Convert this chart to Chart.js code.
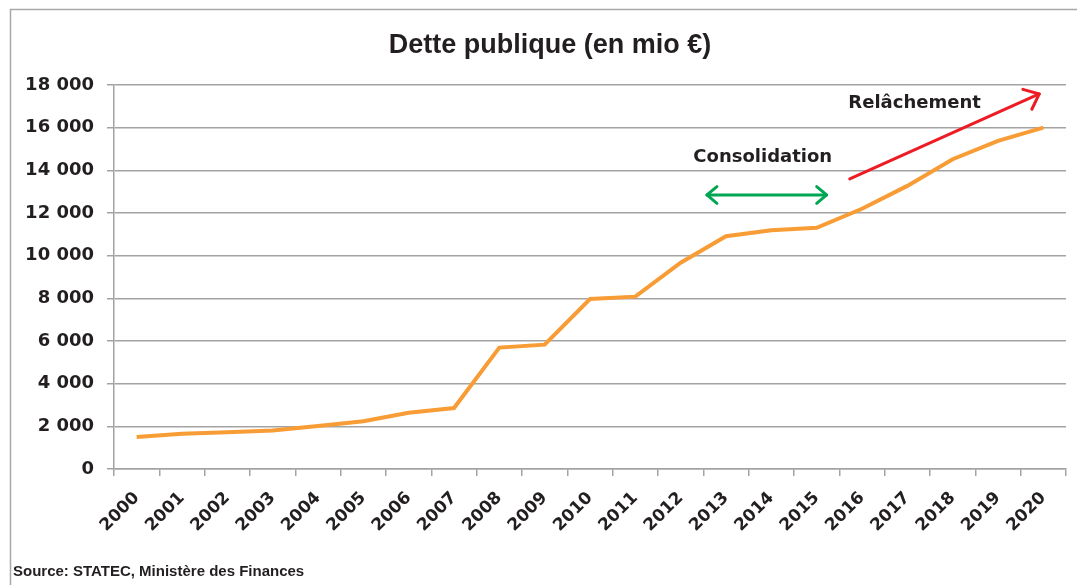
<!DOCTYPE html>
<html>
<head>
<meta charset="utf-8">
<script src="https://cdn.jsdelivr.net/npm/chart.js@4"></script>
<style>
    html, body { margin: 0; padding: 0; background: #ffffff; }
    #wrap { position: relative; width: 1077px; height: 585px; }
</style>
</head>
<body>
<div id="wrap"><canvas id="detteChart" width="1077" height="585"></canvas></div>
<script>
const years = ["2000", "2001", "2002", "2003", "2004", "2005", "2006", "2007", "2008", "2009", "2010",
    "2011", "2012", "2013", "2014", "2015", "2016", "2017", "2018", "2019", "2020"];
const dette = [1500, 1655, 1720, 1810, 2015, 2235, 2640, 2860, 5690, 5830, 7970,
    8080, 9670, 10910, 11190, 11310, 12200, 13270, 14520, 15380, 16000];
const yTicks = [0, 2000, 4000, 6000, 8000, 10000, 12000, 14000, 16000, 18000];

const titleText = "Dette publique (en mio €)";
const sourceText = "Source: STATEC, Ministère des Finances";

// annotations, placed in data units (category index, value)
const consolidation = { label: "Consolidation", labelAt: [13.81, 14625], from: [12.58, 12845], to: [15.22, 12845] };
const relachement = { label: "Relâchement", labelAt: [17.16, 17160], from: [15.73, 13595], to: [19.91, 17580] };

const inkColor = "#231f20";
const gridColor = "#a3a3a3";

function fmt(v) {
    return String(v).replace(/\B(?=(\d{3})+(?!\d))/g, " ");
}

function arrowHead(ctx, x1, y1, x2, y2, size) {
    const a = Math.atan2(y2 - y1, x2 - x1);
    ctx.beginPath();
    ctx.moveTo(x2 - size * Math.cos(a - Math.PI / 4.5), y2 - size * Math.sin(a - Math.PI / 4.5));
    ctx.lineTo(x2, y2);
    ctx.lineTo(x2 - size * Math.cos(a + Math.PI / 4.5), y2 - size * Math.sin(a + Math.PI / 4.5));
    ctx.stroke();
}

const extras = {
    id: "extras",
    beforeDraw(chart) {
        const ctx = chart.ctx;
        ctx.save();
        ctx.fillStyle = "#ffffff";
        ctx.fillRect(0, 0, chart.width, chart.height);
        // frame
        ctx.strokeStyle = "#a8a8a8";
        ctx.lineWidth = 1.5;
        ctx.beginPath();
        ctx.moveTo(10.5, chart.height);
        ctx.lineTo(10.5, 9.5);
        ctx.lineTo(chart.width, 9.5);
        ctx.stroke();
        // title
        ctx.fillStyle = inkColor;
        ctx.font = "bold 27px 'Liberation Sans Narrow', 'Liberation Sans', sans-serif";
        ctx.textAlign = "center";
        ctx.textBaseline = "middle";
        ctx.fillText(titleText, 550, 46);
        // source
        ctx.font = "bold 15px 'Liberation Sans Narrow', 'Liberation Sans', sans-serif";
        ctx.textAlign = "left";
        ctx.textBaseline = "alphabetic";
        ctx.fillText(sourceText, 13, 576);
        ctx.restore();
    },
    afterDatasetsDraw(chart) {
        const ctx = chart.ctx;
        const xs = chart.scales.x, ys = chart.scales.y;
        const px = p => [xs.getPixelForValue(p[0]), ys.getPixelForValue(p[1])];
        ctx.save();
        ctx.lineCap = "round";
        ctx.lineJoin = "round";

        // green double arrow
        let a = px(consolidation.from), b = px(consolidation.to);
        ctx.strokeStyle = "#00a651";
        ctx.lineWidth = 3;
        ctx.beginPath();
        ctx.moveTo(a[0], a[1]);
        ctx.lineTo(b[0], b[1]);
        ctx.stroke();
        arrowHead(ctx, a[0], a[1], b[0], b[1], 13);
        arrowHead(ctx, b[0], b[1], a[0], a[1], 13);

        // red arrow
        a = px(relachement.from); b = px(relachement.to);
        ctx.strokeStyle = "#ed1c24";
        ctx.beginPath();
        ctx.moveTo(a[0], a[1]);
        ctx.lineTo(b[0], b[1]);
        ctx.stroke();
        arrowHead(ctx, a[0], a[1], b[0], b[1], 17);

        // labels
        ctx.fillStyle = inkColor;
        ctx.font = "bold 18px 'DejaVu Sans', sans-serif";
        ctx.textAlign = "center";
        ctx.textBaseline = "middle";
        let t = px(consolidation.labelAt);
        ctx.fillText(consolidation.label, t[0], t[1]);
        t = px(relachement.labelAt);
        ctx.fillText(relachement.label, t[0], t[1]);
        ctx.restore();
    }
};

const ctx = document.getElementById("detteChart").getContext("2d");

new Chart(ctx, {
    type: "line",
    data: {
        labels: years,
        datasets: [{
            data: dette,
            borderColor: "#f89c35",
            borderWidth: 4,
            pointRadius: 0,
            tension: 0,
            fill: false
        }]
    },
    options: {
        responsive: false,
        animation: false,
        devicePixelRatio: 1,
        layout: {
            padding: { top: 85, right: 11, left: 0, bottom: 0 }
        },
        plugins: {
            legend: { display: false },
            tooltip: { enabled: false },
            title: { display: false }
        },
        scales: {
            x: {
                offset: true,
                grid: {
                    display: true,
                    offset: true,
                    drawOnChartArea: false,
                    drawTicks: true,
                    tickLength: 7,
                    color: gridColor,
                    lineWidth: 1.5
                },
                border: { display: true, color: gridColor, width: 1.5 },
                ticks: {
                    autoSkip: false,
                    maxRotation: 45,
                    minRotation: 45,
                    padding: 12,
                    color: inkColor,
                    font: { family: "'DejaVu Sans', sans-serif", size: 17, weight: "bold" }
                },
                afterFit: scale => { scale.height = 116; }
            },
            y: {
                min: 0,
                max: 18000,
                afterBuildTicks: scale => { scale.ticks = yTicks.map(v => ({ value: v })); },
                grid: {
                    color: gridColor,
                    lineWidth: 1.5,
                    tickLength: 7
                },
                border: { display: true, color: gridColor, width: 1.5 },
                ticks: {
                    padding: 13,
                    color: inkColor,
                    font: { family: "'DejaVu Sans', sans-serif", size: 18, weight: "bold" },
                    callback: v => fmt(v)
                },
                afterFit: scale => { scale.width = 114; }
            }
        }
    },
    plugins: [extras]
});
</script>
</body>
</html>
